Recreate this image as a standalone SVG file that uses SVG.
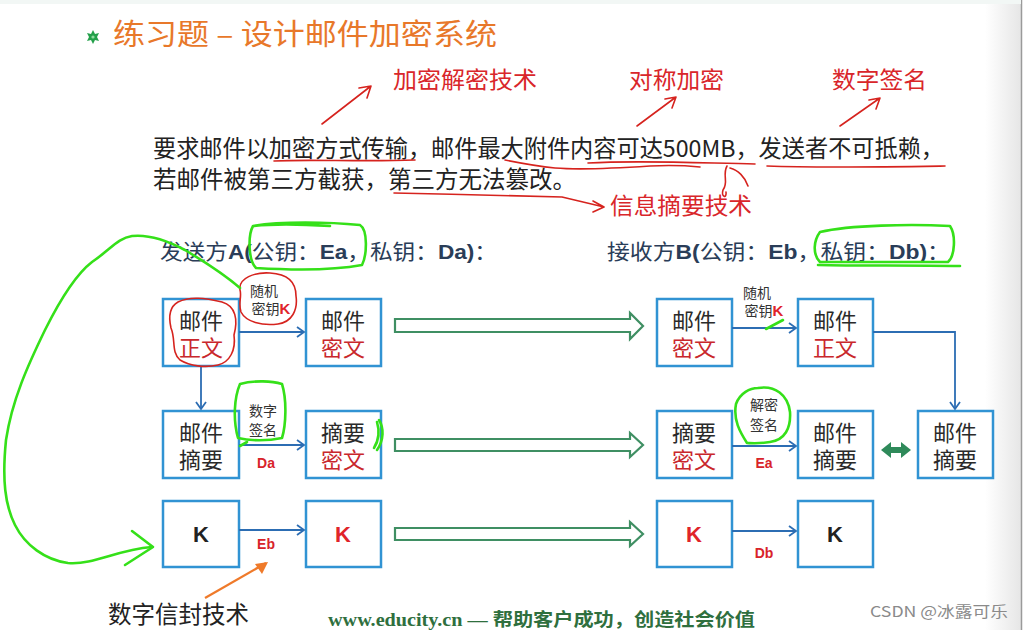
<svg xmlns="http://www.w3.org/2000/svg" width="1023" height="630" viewBox="0 0 1023 630">
<defs>
<style>
.cn{font-family:"Noto Sans CJK SC","Noto Sans",sans-serif}
.ar{font-family:"Liberation Sans",Arial,sans-serif;font-weight:bold}
.box{fill:#fff;stroke:#3193d3;stroke-width:2.5}
.bt{font-family:"Noto Sans CJK SC",sans-serif;font-size:22px;text-anchor:middle;fill:#2a2a2a}
.rd{fill:#c9272c}
.lbl{font-family:"Noto Sans CJK SC",sans-serif;font-size:14px;fill:#333;text-anchor:middle}
.lr{font-family:"Liberation Sans",Arial,sans-serif;font-weight:bold;font-size:14px;fill:#d8232a;text-anchor:middle}
.blue{fill:none;stroke:#2c6db3;stroke-width:1.8}
.harrow{fill:#fff;stroke:#3f8f63;stroke-width:2.2}
.hand{fill:none;stroke:#35e019;stroke-width:2.6;stroke-linecap:round;stroke-linejoin:round}
.redh{fill:none;stroke:#d6231e;stroke-width:1.6;stroke-linecap:round;stroke-linejoin:round}
.redtxt{font-family:"Noto Sans CJK SC",sans-serif;font-size:23px;fill:#d9262a}
.hdr{font-family:"Noto Sans CJK SC",sans-serif;font-size:21px;fill:#2a3d58}
</style>
<marker id="ah" markerWidth="12" markerHeight="12" refX="9" refY="6" orient="auto" markerUnits="userSpaceOnUse">
<path d="M2,1 L9,6 L2,11" fill="none" stroke="#2c6db3" stroke-width="1.8"/>
</marker>
<linearGradient id="edge" x1="0" y1="0" x2="1" y2="0">
<stop offset="0" stop-color="#ffffff"/>
<stop offset="1" stop-color="#e6e6e6"/>
</linearGradient>
</defs>
<rect width="1023" height="630" fill="#ffffff"/>
<rect x="985" y="0" width="36" height="630" fill="url(#edge)"/>
<line x1="1021.5" y1="0" x2="1021.5" y2="630" stroke="#9a9a9a" stroke-width="1.5"/>
<rect x="0" y="0" width="1021" height="4" fill="#f2f7f5"/>

<!-- title -->
<g id="title">
<polygon points="93,30 95,34 99,33 97,37 99,41 95,40 93,44 91,40 87,41 89,37 87,33 91,34" fill="#23a04a"/>
<circle cx="93" cy="37" r="1.6" fill="#8fdc9f"/>
<text x="113" y="45" font-size="29" fill="#e8782a" class="cn" textLength="384" lengthAdjust="spacingAndGlyphs">练习题 – 设计邮件加密系统</text>
</g>

<!-- requirement text and annotations -->
<g id="requirement">
<text x="153" y="157" font-size="23.5" fill="#222" class="cn" textLength="791" lengthAdjust="spacingAndGlyphs">要求邮件以加密方式传输，邮件最大附件内容可达500MB，发送者不可抵赖，</text>
<text x="153" y="188" font-size="23.5" fill="#222" class="cn">若邮件被第三方截获，第三方无法篡改。</text>
</g>
<g id="annotations">
<text x="393" y="88" class="redtxt" textLength="144" lengthAdjust="spacingAndGlyphs">加密解密技术</text>
<text x="629" y="88" class="redtxt" textLength="95" lengthAdjust="spacingAndGlyphs">对称加密</text>
<text x="832" y="88" class="redtxt" textLength="95" lengthAdjust="spacingAndGlyphs">数字签名</text>
<text x="610" y="214" class="redtxt" textLength="142" lengthAdjust="spacingAndGlyphs">信息摘要技术</text>
<path class="redh" d="M322,124 L371,86 M359,88 L371,86 L367,98"/>
<path class="redh" d="M637,126 L676,97 M665,99 L676,97 L672,108"/>
<path class="redh" d="M840,126 L880,98 M869,100 L880,98 L876,109"/>
<path class="redh" d="M274,161 C310,159 360,162 415,160"/>
<path class="redh" d="M505,160 C520,163 535,166 555,168 C580,170 620,168 650,166 C670,165 690,166 700,167"/>
<path class="redh" d="M588,163 C640,160 700,163 755,164"/>
<path class="redh" d="M727,166 C722,175 729,182 723,190 C721,197 727,199 726,192 M730,168 C738,170 745,177 748,186"/>
<path class="redh" d="M767,166 C820,168 880,167 945,166"/>
<path class="redh" d="M394,193 C450,194 510,196 562,197 L604,207 M593,201 L604,207 L593,212"/>
</g>

<!-- headers -->
<g id="header-a">
<text x="160" y="259" class="hdr" textLength="337" lengthAdjust="spacingAndGlyphs">发送方<tspan class="ar">A(</tspan>公钥：<tspan class="ar">Ea</tspan>，私钥：<tspan class="ar">Da)</tspan>：</text>
</g>
<g id="header-b">
<text x="607" y="259" class="hdr" textLength="343" lengthAdjust="spacingAndGlyphs">接收方<tspan class="ar">B(</tspan>公钥：<tspan class="ar">Eb</tspan>，私钥：<tspan class="ar">Db)</tspan>：</text>
</g>

<!-- nodes row 1 -->
<g id="a-mail-plain"><rect class="box" x="163" y="299" width="76" height="67"/><text class="bt" x="201" y="329">邮件<tspan class="rd" x="201" dy="27">正文</tspan></text></g>
<g id="a-mail-cipher"><rect class="box" x="306" y="299" width="75" height="67"/><text class="bt" x="343" y="329">邮件<tspan class="rd" x="343" dy="27">密文</tspan></text></g>
<g id="b-mail-cipher"><rect class="box" x="657" y="299" width="75" height="67"/><text class="bt" x="694" y="329">邮件<tspan class="rd" x="694" dy="27">密文</tspan></text></g>
<g id="b-mail-plain"><rect class="box" x="798" y="299" width="75" height="67"/><text class="bt" x="835" y="329">邮件<tspan class="rd" x="835" dy="27">正文</tspan></text></g>
<!-- nodes row 2 -->
<g id="a-digest"><rect class="box" x="163" y="411" width="76" height="67"/><text class="bt" x="201" y="441">邮件<tspan x="201" dy="27">摘要</tspan></text></g>
<g id="a-digest-cipher"><rect class="box" x="306" y="411" width="75" height="67"/><text class="bt" x="343" y="441">摘要<tspan class="rd" x="343" dy="27">密文</tspan></text></g>
<g id="b-digest-cipher"><rect class="box" x="657" y="411" width="75" height="67"/><text class="bt" x="694" y="441">摘要<tspan class="rd" x="694" dy="27">密文</tspan></text></g>
<g id="b-digest"><rect class="box" x="798" y="411" width="75" height="67"/><text class="bt" x="835" y="441">邮件<tspan x="835" dy="27">摘要</tspan></text></g>
<g id="b-digest2"><rect class="box" x="918" y="411" width="75" height="67"/><text class="bt" x="955" y="441">邮件<tspan x="955" dy="27">摘要</tspan></text></g>
<!-- nodes row 3 -->
<g id="a-key"><rect class="box" x="163" y="501" width="76" height="66"/><text class="ar" x="201" y="542" font-size="22" fill="#222" text-anchor="middle">K</text></g>
<g id="a-key-enc"><rect class="box" x="306" y="501" width="75" height="66"/><text class="ar" x="343" y="542" font-size="22" fill="#e0242a" text-anchor="middle">K</text></g>
<g id="b-key-enc"><rect class="box" x="657" y="501" width="75" height="66"/><text class="ar" x="694" y="542" font-size="22" fill="#e0242a" text-anchor="middle">K</text></g>
<g id="b-key"><rect class="box" x="798" y="501" width="75" height="66"/><text class="ar" x="835" y="542" font-size="22" fill="#222" text-anchor="middle">K</text></g>

<!-- connectors -->
<g id="connectors">
<path class="blue" d="M239,332 H304" marker-end="url(#ah)"/>
<path class="blue" d="M201,366 V409" marker-end="url(#ah)"/>
<path class="blue" d="M239,445 H304" marker-end="url(#ah)"/>
<path class="blue" d="M239,530 H304" marker-end="url(#ah)"/>
<path class="blue" d="M732,328 H796" marker-end="url(#ah)"/>
<path class="blue" d="M873,332 H955 V409" marker-end="url(#ah)"/>
<path class="blue" d="M732,446 H796" marker-end="url(#ah)"/>
<path class="blue" d="M732,531 H796" marker-end="url(#ah)"/>
<polygon class="harrow" points="395,319 630,319 630,313 643,326 630,339 630,332 395,332"/>
<polygon class="harrow" points="395,439 630,439 630,433 643,445 630,457 630,451 395,451"/>
<polygon class="harrow" points="395,528 630,528 630,522 643,534 630,546 630,540 395,540"/>
<polygon points="881,450 891,442 891,447 901,447 901,442 911,450 901,458 901,453 891,453 891,458" fill="#2f8a5a"/>
</g>

<!-- edge labels -->
<g id="edge-labels">
<text class="lbl" x="264" y="296">随机<tspan x="271" dy="18">密钥</tspan><tspan class="ar" fill="#e0242a" font-size="15">K</tspan></text>
<text class="lbl" x="757" y="298">随机<tspan x="764" dy="18">密钥</tspan><tspan class="ar" fill="#e0242a" font-size="15">K</tspan></text>
<text class="lbl" x="263" y="416">数字<tspan x="263" dy="19">签名</tspan></text>
<text class="lr" x="266" y="468">Da</text>
<text class="lr" x="266" y="549">Eb</text>
<text class="lbl" x="764" y="410">解密<tspan x="764" dy="20">签名</tspan></text>
<text class="lr" x="764" y="468">Ea</text>
<text class="lr" x="764" y="558">Db</text>
</g>

<!-- hand-drawn marks -->
<g id="red-marks">
<path class="redh" d="M178,302 C190,296 205,298 222,302 C236,306 238,320 234,335 C236,350 230,362 218,365 C205,368 190,366 180,360 C171,352 176,340 171,328 C168,315 171,306 178,302"/>
<path class="redh" d="M240,290 C238,278 255,272 270,273 C288,274 296,282 296,296 C298,310 292,322 278,324 C262,326 246,322 241,312 C238,304 242,296 240,290"/>
</g>
<g id="green-marks">
<path class="hand" d="M240,288 C225,275 205,262 185,250 C170,242 150,234 132,236 C118,238 110,250 92,262 C75,275 60,300 45,330 C28,365 12,400 6,440 C2,480 5,505 15,525 C25,545 45,560 68,563 C95,565 115,550 152,547"/>
<path class="hand" d="M132,531 L153,547 L125,565"/>
<path class="hand" d="M253,226 C280,221 330,222 360,225 C368,230 367,255 362,265 C330,271 290,270 256,268 C248,260 248,235 253,226 C270,224 300,224 330,226"/>
<path class="hand" d="M820,232 C850,225 910,224 950,226 C956,235 955,256 948,262 C920,262 870,262 820,262 C812,254 814,240 820,232 M818,265 C860,266 910,265 960,266"/>
<path class="hand" d="M240,384 C255,380 272,381 282,384 C287,400 286,425 282,438 C268,441 250,441 238,438 C233,420 234,398 240,384 M247,442 L240,446"/>
<path class="hand" d="M758,388 C775,385 788,395 790,412 C791,428 785,440 770,442 C758,444 750,443 747,443 M747,443 C740,432 733,420 736,404 C740,393 750,388 758,388"/>
<path class="hand" d="M379,420 C384,428 384,440 377,450 M377,422 C380,432 379,440 374,448" stroke-width="3"/>
<path class="hand" d="M766,329 L783,320" stroke-width="5"/>
</g>

<!-- bottom -->
<g id="digital-envelope">
<path d="M205,598 L266,563" stroke="#ef7a2a" stroke-width="2.2" fill="none"/>
<path d="M268,562 L255,564 L262,574 Z" fill="#ef7a2a"/>
<text x="108" y="623" font-size="23.5" fill="#222" class="cn">数字信封技术</text>
</g>
<g id="footer">
<text x="328" y="626" font-size="18" fill="#2f6f3e" font-family="'Liberation Serif','Noto Sans CJK SC',serif" font-weight="bold" textLength="427" lengthAdjust="spacingAndGlyphs">www.educity.cn — <tspan class="cn">帮助客户成功，创造社会价值</tspan></text>
<text x="870" y="617" font-size="15" fill="#8a8a8a" class="cn" textLength="138" lengthAdjust="spacingAndGlyphs">CSDN @冰露可乐</text>
</g>
</svg>
